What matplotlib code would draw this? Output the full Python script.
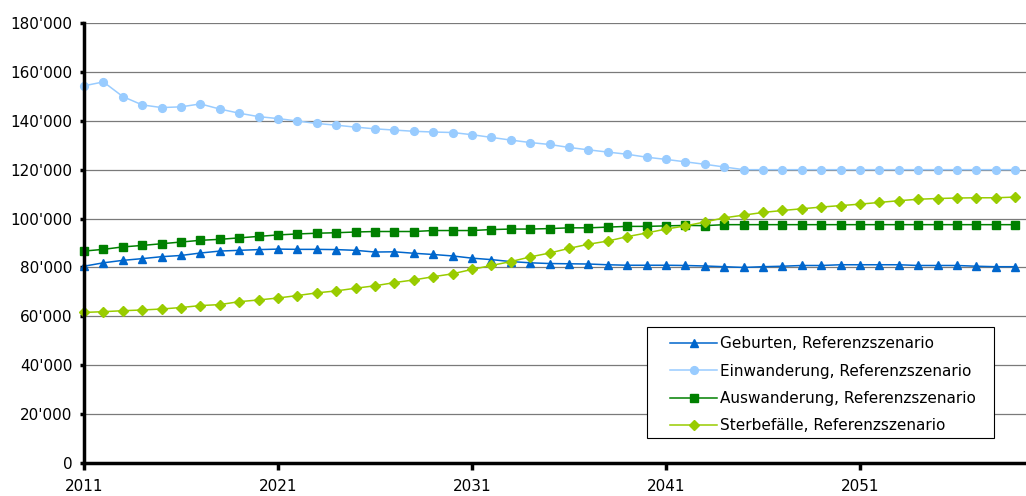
import matplotlib.pyplot as plt
from matplotlib.patches import Rectangle
from matplotlib.ticker import FuncFormatter
import numpy as np

years = np.arange(2011, 2060)

geburten = [80.5, 81.9, 82.9, 83.6, 84.4, 84.9, 85.9, 86.7, 87.0, 87.3,
            87.5, 87.4, 87.4, 87.3, 87.0, 86.3, 86.4, 85.8, 85.3, 84.7,
            83.8, 83.2, 82.4, 81.9, 81.6, 81.5, 81.4, 81.1, 80.9, 80.9,
            80.9, 80.8, 80.6, 80.3, 80.0, 80.3, 80.5, 80.8, 80.8, 81.1,
            81.1, 81.1, 81.1, 80.8, 80.8, 80.8, 80.5, 80.3, 80.3]
einwanderung = [154.3, 155.9, 149.9, 146.5, 145.4, 145.7, 146.9, 144.8, 143.1, 141.7,
                140.9, 139.9, 138.9, 138.2, 137.4, 136.7, 136.2, 135.7, 135.4, 135.2,
                134.3, 133.2, 132.1, 131.1, 130.3, 129.1, 128.1, 127.2, 126.3, 125.1,
                124.2, 123.2, 122.2, 121.1, 120.0, 120.0, 120.0, 120.0, 120.0, 120.0,
                120.0, 120.0, 120.0, 120.0, 120.0, 120.0, 120.0, 120.0, 120.0]
auswanderung = [86.7, 87.4, 88.4, 89.0, 89.7, 90.4, 91.1, 91.5, 92.1, 92.7,
                93.3, 93.7, 94.0, 94.2, 94.5, 94.7, 94.7, 94.7, 95.1, 95.1,
                95.1, 95.5, 95.7, 95.7, 95.9, 96.2, 96.2, 96.5, 96.8, 96.8,
                97.0, 97.2, 97.1, 97.5, 97.5, 97.5, 97.5, 97.5, 97.5, 97.5,
                97.5, 97.5, 97.5, 97.5, 97.5, 97.5, 97.5, 97.5, 97.5]
sterbefaelle = [61.6, 61.9, 62.3, 62.6, 63.0, 63.6, 64.4, 64.8, 66.0, 66.7,
                67.5, 68.5, 69.6, 70.4, 71.5, 72.5, 73.8, 74.9, 76.2, 77.4,
                79.2, 80.8, 82.4, 84.3, 85.9, 87.8, 89.5, 90.8, 92.6, 94.1,
                95.7, 97.0, 98.6, 100.3, 101.4, 102.5, 103.3, 104.0, 104.7, 105.3,
                105.9, 106.6, 107.3, 107.9, 108.2, 108.4, 108.5, 108.5, 108.8]

series = [
    ("Geburten, Referenzszenario", geburten, "#0066CC", "^", 6.2),
    ("Einwanderung, Referenzszenario", einwanderung, "#99CCFF", "o", 5.6),
    ("Auswanderung, Referenzszenario", auswanderung, "#008000", "s", 5.2),
    ("Sterbefälle, Referenzszenario", sterbefaelle, "#99CC00", "D", 4.8),
]

W, H = 1026, 496
plt.rcParams['font.family'] = ['DejaVu Sans']
fig = plt.figure(figsize=(W / 100, H / 100), dpi=100)
ax = fig.add_axes([84 / W, 1 - 463 / H, 1 - 84 / W, (463 - 23) / H])

for label, vals, color, marker, ms in series:
    ax.plot(years, np.array(vals) * 1000, color=color, lw=1.1, marker=marker,
            markersize=ms, markeredgecolor=color, label=label, clip_on=False)

ax.set_xlim(2011, 2011 + 942 / 19.4)
ax.set_ylim(0, 180000)
ax.set_yticks(np.arange(0, 180001, 20000))
ax.yaxis.set_major_formatter(FuncFormatter(lambda v, p: f"{int(v):,}".replace(",", "'")))
ax.set_xticks([2011, 2021, 2031, 2041, 2051])

ax.grid(axis='y', color='#7a7a7a', lw=0.9)
ax.set_axisbelow(True)
for s in ('top', 'right'):
    ax.spines[s].set_visible(False)
for s in ('left', 'bottom'):
    ax.spines[s].set_linewidth(2.5)
ax.tick_params(axis='y', length=3, width=2.5, labelsize=11, pad=5.5)
ax.tick_params(axis='x', length=5, width=2.5, labelsize=11, pad=6.5)

# legend box drawn separately so the padding can differ per side
box = Rectangle((647 / W, 1 - 438 / H), (994 - 647) / W, (438 - 327) / H,
                transform=fig.transFigure, facecolor='white', edgecolor='black',
                lw=0.8, zorder=4, clip_on=False)
ax.add_patch(box)
leg = ax.legend(loc='upper left', bbox_to_anchor=(670 / W, 1 - 336.5 / H),
                bbox_transform=fig.transFigure, fontsize=11, frameon=False,
                numpoints=1, handlelength=3.1, handletextpad=0.2,
                labelspacing=0.8, borderpad=0, borderaxespad=0)
leg.set_zorder(5)

fig.savefig("out.png", dpi=100)
